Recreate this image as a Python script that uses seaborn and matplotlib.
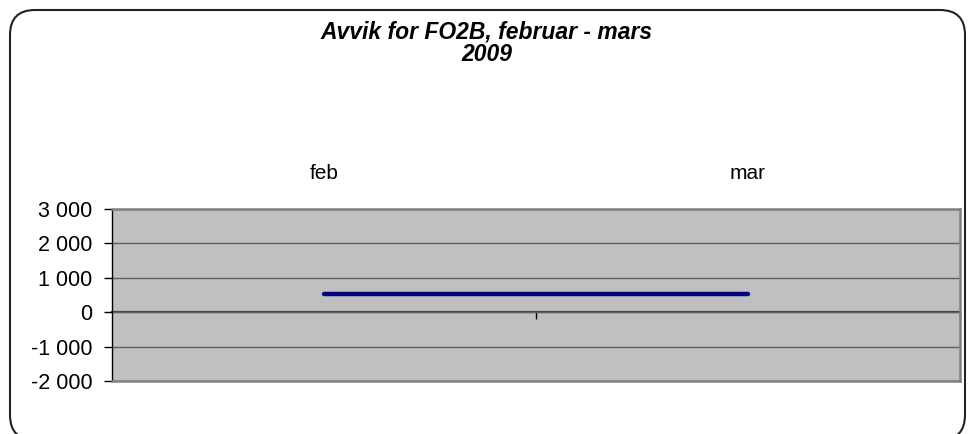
import matplotlib
matplotlib.use("Agg")
import matplotlib.pyplot as plt
from matplotlib.patches import FancyBboxPatch
from matplotlib.ticker import FuncFormatter
import seaborn as sns
import pandas as pd

# data
maaneder = ["feb", "mar"]
avvik = [520, 520]
y_ticks = [-2000, -1000, 0, 1000, 2000, 3000]

tittel = "Avvik for FO2B, februar - mars\n2009"

sns.set_theme(style="white")
plt.rcParams["font.family"] = ["Liberation Sans", "DejaVu Sans"]
plt.rcParams["text.color"] = "black"
plt.rcParams["xtick.color"] = "black"
plt.rcParams["ytick.color"] = "black"

df = pd.DataFrame({"maaned": maaneder, "avvik": avvik})

fig = plt.figure(figsize=(9.7, 4.34), dpi=100)
ax = fig.add_axes([112 / 970, 1 - 381 / 434, 848 / 970, 172 / 434])
ax.set_facecolor("#C0C0C0")

# gridlines
for v in y_ticks:
    ax.axhline(v, color="#5f5f5f", lw=1.0, zorder=1)

sns.lineplot(data=df, x="maaned", y="avvik", ax=ax, color="#000080",
             lw=3.2, solid_capstyle="round", sort=False, zorder=3)

ax.set_xlim(-0.5, 1.5)
ax.set_ylim(min(y_ticks), max(y_ticks))
ax.set_yticks(y_ticks)
ax.yaxis.set_major_formatter(FuncFormatter(lambda v, p: f"{v:,.0f}".replace(",", " ")))
ax.tick_params(axis="y", direction="out", length=6, width=1, color="black",
               pad=8, labelsize=15.5, left=True)

# kategori-etiketter over plottet
ax.set_xticks(range(len(maaneder)))
ax.set_xticklabels(maaneder)
ax.tick_params(axis="x", bottom=False, top=False, labelbottom=False,
               labeltop=True, pad=13, labelsize=15)
ax.set_xlabel("")
ax.set_ylabel("")

for s in ["top", "right", "bottom"]:
    ax.spines[s].set_color("#808080")
    ax.spines[s].set_linewidth(1.8)
ax.spines["left"].set_color("black")
ax.spines["left"].set_linewidth(1.0)

# kategoriakse ved y=0
frac0 = (0 - min(y_ticks)) / (max(y_ticks) - min(y_ticks))
sec = ax.secondary_xaxis(frac0)
sec.set_xticks([0.5, 1.5])
sec.set_xticklabels(["", ""])
sec.tick_params(direction="out", length=5, width=1, color="black")
sec.spines["bottom"].set_color("#404040")
sec.spines["bottom"].set_linewidth(1.6)

fig.text(487 / 970, 1 - 43 / 434, tittel, ha="center", va="center",
         fontsize=16.5, fontweight="bold", fontstyle="italic", linespacing=1.0)

ramme = FancyBboxPatch((0.10, -0.06), 9.55, 4.30,
                       boxstyle="round,pad=0,rounding_size=0.25",
                       transform=fig.dpi_scale_trans, fill=False,
                       edgecolor="#222222", lw=1.5, clip_on=False)
fig.patches.append(ramme)

fig.savefig("out.png", dpi=100)
